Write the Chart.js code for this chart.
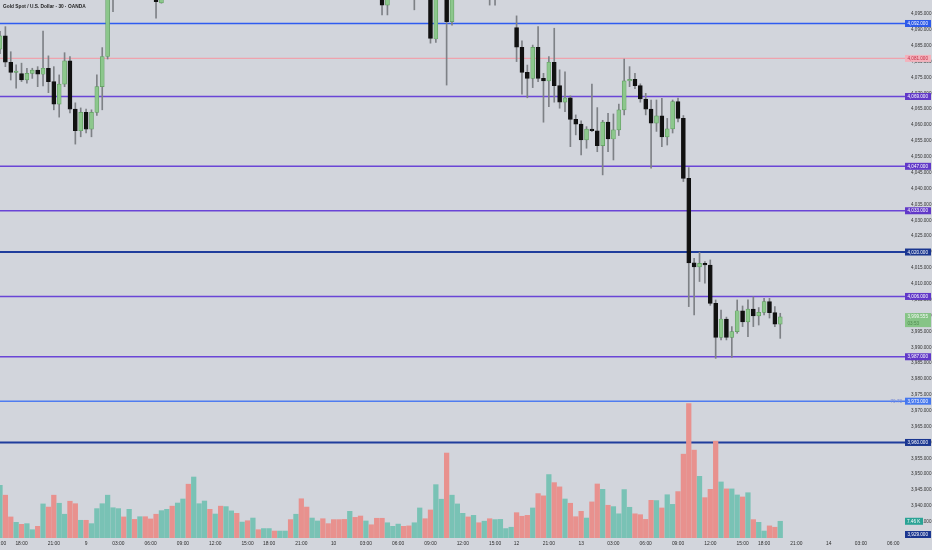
<!DOCTYPE html>
<html><head><meta charset="utf-8">
<script src="https://cdn.jsdelivr.net/npm/chart.js@4.4.1/dist/chart.umd.min.js"></script>
<style>html,body{margin:0;padding:0;background:#d2d5dc;overflow:hidden}#wrap{width:932px;height:550px}</style>
</head><body><div id="wrap"><canvas id="c" width="932" height="550"></canvas></div>
<script>
const chartTitle = "Gold Spot / U.S. Dollar · 30 · OANDA";
const categories = [
"15:00","15:30","16:00","16:30",
"18:00","18:30","19:00","19:30","20:00","20:30","21:00","21:30","22:00","22:30","23:00","23:30",
"9","00:30","01:00","01:30","02:00","02:30","03:00","03:30","04:00","04:30","05:00","05:30","06:00","06:30","07:00","07:30","08:00","08:30","09:00","09:30","10:00","10:30","11:00","11:30","12:00","12:30","13:00","13:30","14:00","14:30","15:00","15:30","16:00","16:30",
"18:00","18:30","19:00","19:30","20:00","20:30","21:00","21:30","22:00","22:30","23:00","23:30",
"10","00:30","01:00","01:30","02:00","02:30","03:00","03:30","04:00","04:30","05:00","05:30","06:00","06:30","07:00","07:30","08:00","08:30","09:00","09:30","10:00","10:30","11:00","11:30","12:00","12:30","13:00","13:30","14:00","14:30","15:00","15:30","16:00","16:30",
"12","18:30","19:00","19:30","20:00","20:30","21:00","21:30","22:00","22:30","23:00","23:30",
"13","00:30","01:00","01:30","02:00","02:30","03:00","03:30","04:00","04:30","05:00","05:30","06:00","06:30","07:00","07:30","08:00","08:30","09:00","09:30","10:00","10:30","11:00","11:30","12:00","12:30","13:00","13:30","14:00","14:30","15:00","15:30","16:00","16:30",
"18:00","18:30","19:00","19:30","20:00","20:30","21:00","21:30","22:00","22:30","23:00","23:30",
"14","00:30","01:00","01:30","02:00","02:30","03:00","03:30","04:00","04:30","05:00","05:30","06:00","06:30","07:00"
];
const opens = [
4083.9,4088.1,4079.8,4076.6,4076.2,4074.2,4076.3,4077.3,4076.0,4077.9,
4073.7,4066.6,4072.9,4080.2,4065.0,4058.2,4064.0,4058.7,4064.0,4072.1,
4081.6,4102.5,4108,4112,4108,4114,4111,4116,4112,4106,
4098.5,4103,4108,4104,4110,4118,4111,4125,4129,4133,
4127,4131,4125,4129,4133,4128,4130,4127,4130,4128,
4130,4131,4129,4130,4131,4126,4130,4120,4115,4118,
4120,4116,4114,4111,4108,4105,4111,4107,4104,4107,
4104,4102,4097.8,4102,4105,4108,4105,4103,4108,4114,
4108,4087.1,4111,4118,4092.6,4103,4108,4111,4107,4110,
4106,4109,4102,4105,4107,4108,4090.7,4084.5,4076.6,4074.7,
4084.5,4074.7,4073.9,4079.8,4072.4,4067.2,4068.6,4061.8,4060.3,4055.3,
4058.7,4058.2,4053.5,4060.9,4055.6,4058.5,4064.8,4073.9,4074.4,4072.4,
4068.2,4065.0,4060.6,4062.9,4056.3,4058.8,4067.4,4062.1,4043.2,4016.6,
4015.3,4016.4,4015.9,4003.8,3993.1,3998.9,3993.1,3994.9,4001.5,3998.0,
4002.0,3999.9,4001.0,4004.4,4000.9,3997.3
];
const highs = [
4089.5,4091.0,4083.1,4079.0,4079.5,4077.9,4077.9,4078.4,4089.6,4081.8,
4078.4,4075.8,4082.8,4081.6,4067.0,4065.4,4065.0,4064.8,4075.8,4084.4,
4104.0,4110,4114,4115,4116,4117,4118,4119,4114,4108,
4105,4110,4111,4112,4120,4124,4128,4131,4136,4135,
4133,4134,4132,4135,4135,4132,4131,4132,4131,4131,
4133,4132,4131,4132,4133,4132,4131,4122,4120,4122,
4121,4118,4116,4113,4110,4113,4112,4109,4109,4108,
4106,4104,4104,4107,4110,4110,4107,4110,4116,4115,
4110,4114,4122,4121,4106,4110,4113,4112,4112,4111,
4111,4110,4107,4109,4109,4111,4094.4,4086.5,4078.9,4085.2,
4091.0,4076.3,4081.6,4090.5,4077.4,4076.8,4069.2,4063.2,4061.3,4059.5,
4072.9,4065.5,4061.5,4063.7,4063.5,4066.6,4080.8,4078.4,4076.3,4073.0,
4070.0,4067.9,4067.9,4068.4,4062.1,4067.9,4068.5,4063.0,4046.6,4018.0,
4019.9,4017.0,4017.5,4004.9,4001.7,3999.5,3996.5,4004.9,4003.0,4004.9,
4005.9,4002.5,4005.4,4005.4,4002.8,4000.7
];
const lows = [
4082.5,4078.4,4074.2,4071.6,4073.7,4073.2,4074.7,4072.1,4072.3,4070.2,
4064.8,4062.5,4072.1,4063.8,4054.0,4056.3,4057.5,4056.3,4063.0,4064.8,
4080.8,4095.7,4105,4106,4106,4109,4109,4110,4104,4093.7,
4098.4,4101,4102,4102,4108,4108,4109,4121,4126,4125,
4124,4123,4122,4127,4126,4126,4125,4125,4127,4127,
4129,4128,4128,4129,4124,4124,4118,4112,4113,4116,
4114,4113,4110,4107,4104,4104,4105,4102,4103,4103,
4100.5,4094.7,4094.7,4100.5,4103,4103,4101,4096.3,4106,4106,
4085.8,4086,4108,4072.6,4091.5,4101,4106,4105,4105,4105,
4104,4097.8,4097.8,4103,4105,4106,4080.0,4069.7,4068.6,4071.8,
4073.7,4060.9,4065.8,4067.2,4065.3,4064.2,4053.2,4056.9,4050.6,4052.7,
4057.9,4051.6,4044.3,4051.6,4049.0,4056.7,4063.2,4072.1,4071.5,4067.2,
4063.2,4046.4,4058.0,4053.2,4053.7,4057.5,4061.0,4042.2,4002.8,4000.2,
4010.7,4010.2,4003.2,3986.5,3992.3,3992.3,3986.8,3994.4,3996.5,3993.3,
3996.5,3997.0,4000.2,3999.2,3996.5,3992.8
];
const closes = [
4088.1,4079.8,4076.6,4077.0,4074.2,4076.3,4077.3,4076.0,4077.9,4073.7,
4066.6,4072.9,4080.2,4065.0,4058.2,4064.0,4058.7,4064.0,4072.1,4081.6,
4102.5,4108,4112,4108,4114,4111,4116,4112,4106,4098.9,
4103,4108,4104,4110,4118,4111,4125,4129,4133,4127,
4131,4125,4129,4133,4128,4130,4127,4130,4128,4130,
4131,4129,4130,4131,4126,4130,4120,4115,4118,4120,
4116,4114,4111,4108,4105,4111,4107,4104,4107,4104,
4102,4097.8,4102,4105,4108,4105,4103,4108,4114,4108,
4087.3,4111,4118,4092.6,4103,4108,4111,4107,4110,4106,
4109,4102,4105,4107,4108,4109,4084.5,4076.6,4074.7,4084.5,
4074.7,4073.9,4079.8,4072.4,4067.2,4068.6,4061.8,4060.3,4055.3,4058.7,
4058.2,4053.5,4060.9,4055.6,4058.5,4064.8,4073.9,4074.4,4072.4,4068.2,
4065.0,4060.6,4062.9,4056.3,4058.8,4067.4,4062.1,4043.2,4016.6,4015.3,
4016.4,4015.9,4003.8,3993.1,3998.9,3993.1,3994.9,4001.5,3998.0,4002.0,
3999.9,4001.0,4004.4,4000.9,3997.3,3999.555
];
const volumesK = [
23.5,19.1,9.4,7.0,6.1,6.4,3.7,5.2,15.2,13.8,
19.1,15.5,10.6,16.4,15.3,7.9,7.9,6.4,13.1,15.3,
19.1,13.5,13.1,9.4,12.8,8.3,9.5,9.5,8.5,10.6,
12.2,12.8,14.2,15.6,17.4,24.0,27.2,15.3,16.5,12.8,
10.7,14.2,14.0,12.1,11.0,7.1,7.7,8.9,3.7,4.2,
4.2,3.1,3.1,3.1,8.2,10.6,17.5,13.8,8.9,7.6,
8.6,6.4,8.2,8.2,8.3,11.9,9.2,9.8,7.6,5.9,
8.8,8.8,6.8,5.2,6.2,5.2,5.4,6.8,13.4,8.6,
12.5,23.8,17.3,37.9,19.1,15.2,11.0,9.4,10.1,6.8,
7.5,8.6,8.2,8.3,4.2,4.8,11.3,9.7,10.1,13.4,
19.8,18.8,28.3,24.7,22.8,17.4,15.5,9.5,11.9,8.9,
16.1,24.1,21.7,14.6,14.0,10.8,21.6,13.7,10.8,10.4,
8.3,16.8,16.7,13.4,19.3,15.0,20.7,37.4,60.0,39.2,
27.5,18.0,21.7,43.2,25.0,21.9,21.9,19.2,18.3,20.2,
8.2,7.0,3.1,5.4,4.8,7.46
];
const yTickValues = [3935,3940,3945,3950,3955,3960,3965,3970,3975,3980,3985,3990,3995,4000,4005,4010,4015,4020,4025,4030,4035,4040,4045,4050,4055,4060,4065,4070,4075,4080,4085,4090,4095];
const levelValues = [4092,4081,4069,4047,4033,4020,4006,3987,3973,3960,3929];
const levelNote = "70.73";
const currentPrice = 3999.555;
const countdown = "03:53";
const lastVolumeText = "7.46 K";

// styles (kept apart from data)
const BLUE={line:'#2f5cf0',w:1.5,bg:'#2d5ae9',fg:'#ffffff'};
const PINK={line:'#efa3ad',w:1.4,bg:'#f3b2bc',fg:'#c42c45'};
const PURP={line:'#6a45d6',w:1.5,bg:'#6138c8',fg:'#ffffff'};
const NAVY={line:'#1f3d9c',w:2,bg:'#1a3690',fg:'#ffffff'};
const LBLUE={line:'#4f7cf0',w:1.5,bg:'#4577ee',fg:'#ffffff'};
const levelStyles=[BLUE,PINK,PURP,PURP,PURP,NAVY,PURP,PURP,LBLUE,NAVY,NAVY];
const FONT="'Liberation Sans', Arial, sans-serif";
const UP_BODY='#8cc78c', UP_BORDER='#5e9c5e', DN_BODY='#111111';
const VOL_UP='#79c2b5', VOL_DN='#e8918e';

const isUp = opens.map((o,i)=>closes[i]>=o);
const fmt = v => v.toLocaleString('en-US',{minimumFractionDigits:3,maximumFractionDigits:3});

const overlay = {
  id:'overlay',
  beforeDraw(chart){
    const c=chart.ctx; c.save(); c.fillStyle='#d2d5dc'; c.fillRect(0,0,chart.width,chart.height); c.restore();
  },
  beforeDatasetsDraw(chart){
    const {ctx,chartArea:a,scales:{y}}=chart;
    ctx.save();
    levelValues.forEach((v,k)=>{
      const py=y.getPixelForValue(v);
      if(py<a.top||py>a.bottom) return;
      const s=levelStyles[k];
      ctx.strokeStyle=s.line; ctx.lineWidth=s.w;
      ctx.beginPath(); ctx.moveTo(a.left,py); ctx.lineTo(a.right+1,py); ctx.stroke();
    });
    ctx.restore();
  },
  afterDraw(chart){
    const {ctx,chartArea:a,scales:{y,yv}}=chart;
    ctx.save();
    ctx.font="bold 4.8px "+FONT; ctx.fillStyle='#1e1e1e'; ctx.textBaseline='middle'; ctx.textAlign='left';
    ctx.fillText(chartTitle,3,7);
    const box=(py,h,w,bg)=>{ctx.fillStyle=bg; ctx.fillRect(a.right+1,py-h/2,w,h);};
    ctx.font="4.6px "+FONT; ctx.textAlign='left';
    levelValues.forEach((v,k)=>{
      let py=y.getPixelForValue(v);
      py=Math.min(Math.max(py,a.top+3.5),a.bottom-3.5);
      const s=levelStyles[k];
      box(py,7,26,s.bg);
      ctx.fillStyle=s.fg; ctx.fillText(fmt(v),a.right+3.5,py+0.3);
    });
    const pn=y.getPixelForValue(levelValues[8]);
    ctx.fillStyle='#7c8ed6'; ctx.textAlign='right'; ctx.fillText(levelNote,a.right-2,pn+0.3);
    ctx.textAlign='left';
    const pc=y.getPixelForValue(currentPrice);
    ctx.fillStyle='#86c486'; ctx.fillRect(a.right+1,pc-3.8,26,14);
    ctx.fillStyle='#f4f8f4'; ctx.fillText(fmt(currentPrice),a.right+3.5,pc+0.3);
    ctx.fillStyle='#4f8a4f'; ctx.fillText(countdown,a.right+3.5,pc+6.5);
    const pvol=yv.getPixelForValue(volumesK[volumesK.length-1]);
    ctx.fillStyle='#2aa395'; ctx.fillRect(a.right+1,pvol-3.5,18,7);
    ctx.fillStyle='#ffffff'; ctx.fillText(lastVolumeText,a.right+3,pvol+0.3);
    ctx.restore();
  }
};

new Chart(document.getElementById('c'),{
  type:'bar',
  data:{
    labels:categories,
    datasets:[
      {label:'Body',order:0,grouped:false,yAxisID:'y',
       data:opens.map((o,i)=>[Math.min(o,closes[i]),Math.max(o,closes[i])]),
       backgroundColor:isUp.map(u=>u?UP_BODY:DN_BODY),
       borderColor:isUp.map(u=>u?UP_BORDER:DN_BODY),
       borderWidth:0.7,borderSkipped:false,barThickness:4,minBarLength:1},
      {label:'Wick',order:1,grouped:false,yAxisID:'y',
       data:lows.map((l,i)=>[l,highs[i]]),
       backgroundColor:'#7e8186',borderWidth:0,barThickness:1},
      {label:'Volume',order:2,grouped:false,yAxisID:'yv',
       data:volumesK,
       backgroundColor:isUp.map(u=>u?VOL_UP:VOL_DN),borderWidth:0,barThickness:4.6}
    ]
  },
  options:{
    responsive:false,animation:false,devicePixelRatio:1,
    layout:{padding:0,autoPadding:false},
    plugins:{legend:{display:false},tooltip:{enabled:false},title:{display:false}},
    scales:{
      x:{type:'category',offset:false,
         grid:{display:false,drawTicks:false},border:{display:false},
         ticks:{autoSkip:false,maxRotation:0,minRotation:0,padding:3,color:'#2e2e2e',font:{size:4.9,family:FONT},
           callback:(v,i)=>{const l=categories[i]; if(!l.includes(':')) return l; const p=l.split(':'); return (p[1]==='00'&&(+p[0])%3===0)?l:null;}},
         afterFit:s=>{s.height=12;s.paddingLeft=0;s.paddingRight=0;}},
      y:{position:'right',min:3929.9,max:4099.4,
         grid:{display:false,drawTicks:false},border:{display:false},
         afterBuildTicks:s=>{s.ticks=yTickValues.map(v=>({value:v}));},
         ticks:{padding:7,color:'#333333',font:{size:4.6,family:FONT},callback:v=>fmt(v)},
         afterFit:s=>{s.width=28;s.paddingTop=0;s.paddingBottom=0;}},
      yv:{display:false,min:0,max:240}
    }
  },
  plugins:[overlay]
});
</script></body></html>
